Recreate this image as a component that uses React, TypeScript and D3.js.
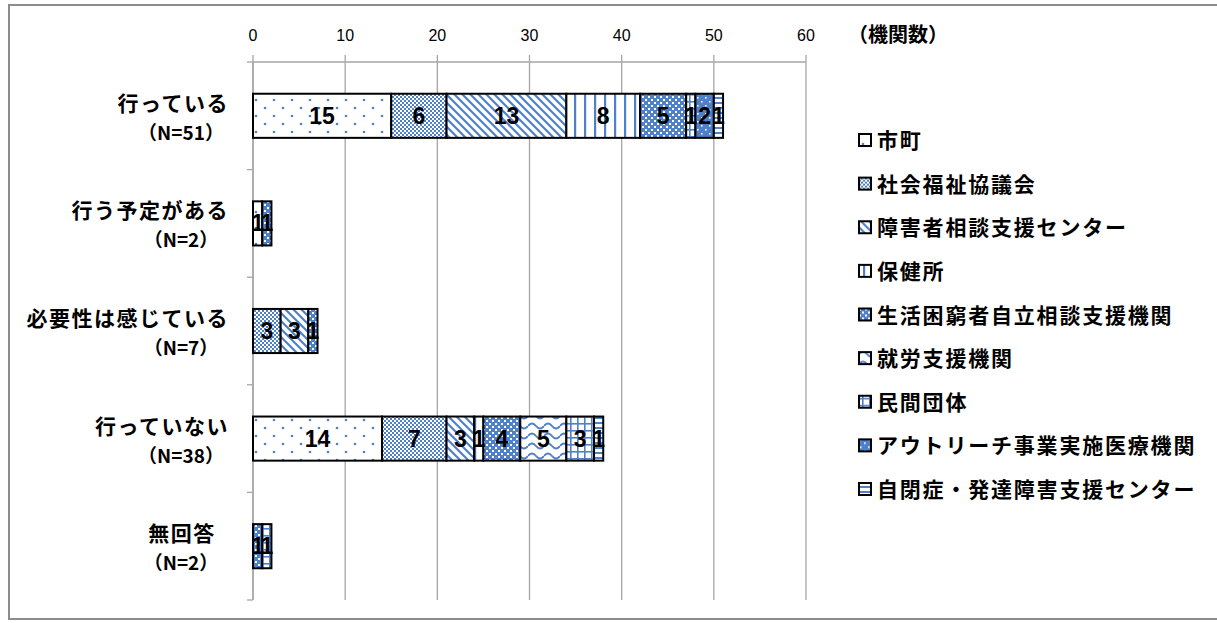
import React from "react";
import * as d3 from "d3";

const categories = ["行っている", "行う予定がある", "必要性は感じている", "行っていない", "無回答"];
const nLabels = ["（N=51）", "（N=2）", "（N=7）", "（N=38）", "（N=2）"];
const seriesNames = [
  "市町",
  "社会福祉協議会",
  "障害者相談支援センター",
  "保健所",
  "生活困窮者自立相談支援機関",
  "就労支援機関",
  "民間団体",
  "アウトリーチ事業実施医療機関",
  "自閉症・発達障害支援センター",
];
const shicho = [15, 1, 0, 14, 0];
const shakyo = [6, 0, 3, 7, 0];
const shogai = [13, 0, 3, 3, 0];
const hokenjo = [8, 0, 0, 1, 0];
const konkyu = [5, 1, 1, 4, 1];
const shuro = [0, 0, 0, 5, 0];
const minkan = [1, 0, 0, 3, 1];
const outreach = [2, 0, 0, 0, 0];
const jihei = [1, 0, 0, 1, 0];
const seriesValues = [shicho, shakyo, shogai, hokenjo, konkyu, shuro, minkan, outreach, jihei];
const xTicks = [0, 10, 20, 30, 40, 50, 60];
const unitLabel = "（機関数）";

const BLUE = "#4F81C9";
const patternIds = ["pDots", "pSmallCheck", "pDiag", "pVert", "pBigCheck", "pWave", "pGrid", "pDark", "pHoriz"];

const JP = "'Noto Sans CJK JP', 'Noto Sans', sans-serif";

function Patterns() {
  return (
    <defs>
      <pattern id="pDots" width={18} height={16} patternUnits="userSpaceOnUse">
        <rect width={18} height={16} fill="#fff" />
        <circle cx={4} cy={4} r={1.3} fill={BLUE} />
        <circle cx={13} cy={12} r={1.3} fill={BLUE} />
      </pattern>
      <pattern id="pSmallCheck" width={4} height={4} patternUnits="userSpaceOnUse">
        <rect width={4} height={4} fill="#fff" />
        <rect x={0} y={0} width={2} height={2} fill={BLUE} />
        <rect x={2} y={2} width={2} height={2} fill={BLUE} />
      </pattern>
      <pattern id="pDiag" width={8} height={8} patternUnits="userSpaceOnUse">
        <rect width={8} height={8} fill="#fff" />
        <path d="M-2,-2 L10,10 M-2,6 L2,10 M6,-2 L10,2" stroke={BLUE} strokeWidth={2.2} />
      </pattern>
      <pattern id="pVert" width={10} height={10} patternUnits="userSpaceOnUse">
        <rect width={10} height={10} fill="#fff" />
        <rect x={4} y={0} width={2.2} height={10} fill={BLUE} />
      </pattern>
      <pattern id="pBigCheck" width={6} height={6} patternUnits="userSpaceOnUse">
        <rect width={6} height={6} fill={BLUE} />
        <rect x={0} y={0} width={2} height={2} fill="#fff" />
        <rect x={3} y={3} width={2} height={2} fill="#fff" />
      </pattern>
      <pattern id="pWave" width={16} height={10} patternUnits="userSpaceOnUse">
        <rect width={16} height={10} fill="#fff" />
        <path d="M0,6 Q4,1 8,6 T16,6" fill="none" stroke={BLUE} strokeWidth={2} />
      </pattern>
      <pattern id="pGrid" width={7} height={7} patternUnits="userSpaceOnUse">
        <rect width={7} height={7} fill="#fff" />
        <rect x={3} y={0} width={1.6} height={7} fill={BLUE} />
        <rect x={0} y={3} width={7} height={1.6} fill={BLUE} />
      </pattern>
      <pattern id="pDark" width={8} height={8} patternUnits="userSpaceOnUse">
        <rect width={8} height={8} fill={BLUE} />
        <rect x={1} y={1} width={1.6} height={1.6} fill="#fff" />
        <rect x={5} y={5} width={1.6} height={1.6} fill="#fff" />
      </pattern>
      <pattern id="pHoriz" width={6} height={5} patternUnits="userSpaceOnUse">
        <rect width={6} height={5} fill="#fff" />
        <rect x={0} y={2} width={6} height={2} fill={BLUE} />
      </pattern>
    </defs>
  );
}

export default function App() {
  const W = 1217;
  const H = 623;
  const x = d3.scaleLinear().domain([0, 60]).range([253, 806]);
  const y = d3.scaleBand<number>().domain(d3.range(categories.length)).range([62, 600]).paddingInner(0.59).paddingOuter(0.295);
  const band = (600 - 62) / categories.length;

  const stackData = categories.map((_, i) => {
    const o: Record<string, number> = { idx: i };
    seriesValues.forEach((s, k) => (o["s" + k] = s[i]));
    return o;
  });
  const stack = d3.stack<Record<string, number>>().keys(seriesNames.map((_, k) => "s" + k));
  const layers = stack(stackData);

  const legendY = d3.scaleLinear().domain([0, 8]).range([140, 489]);

  return (
    <div style={{ position: "absolute", left: 0, top: 0, width: W, height: H, background: "#fff" }}>
      <svg width={W} height={H} style={{ display: "block" }}>
        <Patterns />
        <rect x={9} y={5} width={1220} height={614} fill="#fff" stroke="#8c8c8c" strokeWidth={2} />
        {xTicks.map((t) => (
          <line key={"g" + t} x1={x(t)} x2={x(t)} y1={55} y2={600} stroke="#A6A6A6" strokeWidth={1.3} />
        ))}
        <line x1={x(0)} x2={x(60)} y1={62} y2={62} stroke="#A6A6A6" strokeWidth={1.5} />
        <line x1={x(0)} x2={x(0)} y1={62} y2={600} stroke="#A6A6A6" strokeWidth={1.5} />
        {d3.range(categories.length + 1).map((i) => (
          <line key={"yt" + i} x1={247} x2={253} y1={62 + i * band} y2={62 + i * band} stroke="#A6A6A6" strokeWidth={1.3} />
        ))}
        {xTicks.map((t) => (
          <text key={"tl" + t} x={x(t)} y={41} textAnchor="middle" fontFamily="'Liberation Sans Narrow', 'Liberation Sans', sans-serif" fontSize={16} fill="#000">
            {t}
          </text>
        ))}
        <text x={848} y={42} fontFamily={JP} fontWeight="bold" fontSize={20} fill="#000">
          {unitLabel}
        </text>
        {categories.map((c, i) => {
          const cy = 62 + band * (i + 0.5);
          const fs = 21;
          const w = c.length * (fs + 1.5);
          const xEnd = Math.min(229, 182 + w / 2);
          return (
            <g key={"c" + i} fontFamily={JP} fontWeight="bold" fontSize={fs} fill="#000">
              <text x={xEnd} y={cy - 5} textAnchor="end" letterSpacing={1.5}>
                {c}
              </text>
              <text x={181} y={cy + 24} textAnchor="middle" fontSize={19}>
                {nLabels[i]}
              </text>
            </g>
          );
        })}
        {layers.map((layer, k) => (
          <g key={"l" + k}>
            {layer.map((d, i) =>
              d[1] - d[0] > 0 ? (
                <rect
                  key={i}
                  x={x(d[0])}
                  y={y(i)!}
                  width={x(d[1]) - x(d[0])}
                  height={y.bandwidth()}
                  fill={`url(#${patternIds[k]})`}
                  stroke="#000"
                  strokeWidth={2}
                />
              ) : null
            )}
          </g>
        ))}
        {layers.map((layer, k) => (
          <g key={"v" + k}>
            {layer.map((d, i) =>
              d[1] - d[0] > 0 ? (
                <text
                  key={i}
                  x={(x(d[0]) + x(d[1])) / 2}
                  y={y(i)! + y.bandwidth() / 2 + 8}
                  textAnchor="middle"
                  fontFamily="'Liberation Sans', sans-serif"
                  fontWeight="bold"
                  fontSize={23}
                  fill="#000"
                >
                  {d[1] - d[0]}
                </text>
              ) : null
            )}
          </g>
        ))}
        {seriesNames.map((s, k) => (
          <g key={"lg" + k} transform={`translate(859, ${legendY(k)})`}>
            <rect x={0} y={-6} width={12} height={12} fill={`url(#${patternIds[k]})`} stroke="#000" strokeWidth={2} />
            <text x={18} y={8} fontFamily={JP} fontWeight="bold" fontSize={21} letterSpacing={1.8} fill="#000">
              {s}
            </text>
          </g>
        ))}
      </svg>
    </div>
  );
}
